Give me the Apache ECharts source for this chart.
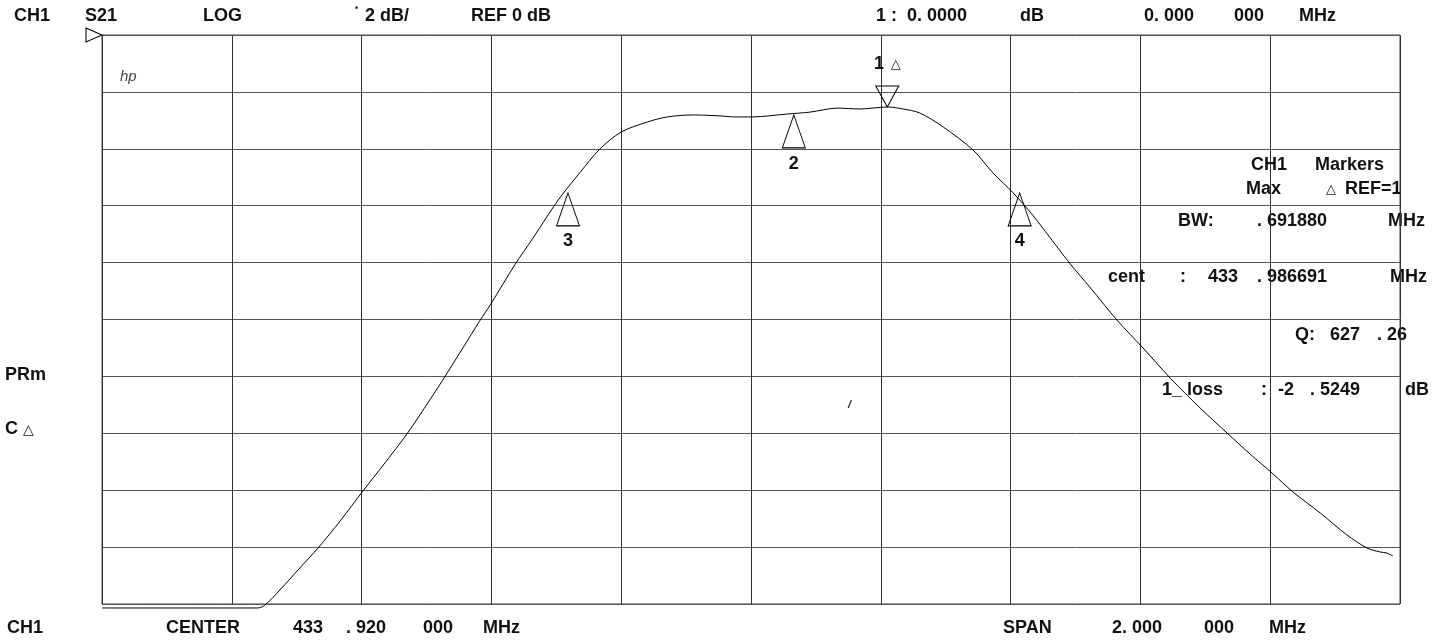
<!DOCTYPE html>
<html>
<head>
<meta charset="utf-8">
<script src="https://cdn.jsdelivr.net/npm/echarts@6/dist/echarts.min.js"></script>
<style>
html,body{margin:0;padding:0;background:#fff;}
#chart{width:1448px;height:643px;}
</style>
</head>
<body>
<div id="chart"></div>
<script>
// ---- instrument settings ----
const CENTER_MHZ = 433.92;
const SPAN_MHZ = 2.0;
const REF_DB = 0;
const DB_PER_DIV = 2;
const DIVS = 10;

// ---- S21 trace (frequency in MHz, level in dB) ----
const traceFreqMHz = [
  432.920, 433.071, 433.160, 433.171, 433.194, 433.225, 433.253, 433.287, 433.321, 433.356,
  433.390, 433.425, 433.445, 433.476, 433.502, 433.519, 433.556, 433.584, 433.623, 433.657,
  433.687, 433.720, 433.760, 433.791, 433.831, 433.877, 433.892, 433.922, 433.975, 434.011,
  434.053, 434.088, 434.131, 434.154, 434.180, 434.216, 434.262, 434.293, 434.324, 434.354,
  434.393, 434.412, 434.442, 434.485, 434.524, 434.566, 434.612, 434.655, 434.689, 434.723,
  434.755, 434.797, 434.838, 434.869, 434.889, 434.900, 434.909
];
const traceDb = [
  -20.14, -20.14, -20.14, -20.04, -19.51, -18.73, -18.03, -17.08, -16.06, -15.04,
  -14.02, -12.83, -12.13, -11.00, -10.05, -9.46, -8.08, -7.14, -5.80, -4.82,
  -4.01, -3.41, -3.06, -2.88, -2.81, -2.85, -2.88, -2.88, -2.78, -2.71,
  -2.57, -2.60, -2.53, -2.60, -2.74, -3.23, -4.04, -4.85, -5.55, -6.33,
  -7.49, -8.05, -8.86, -10.05, -11.00, -12.06, -13.11, -14.02, -14.73, -15.40,
  -16.06, -16.80, -17.57, -18.03, -18.17, -18.21, -18.31
];

// ---- markers ----
const markerNames = ['1', '2', '3', '4'];
const markerFreqMHz = [434.130, 433.986, 433.638, 434.334];
const markerDb = [-2.53, -2.81, -5.55, -5.55];

// ---- header / footer / marker table texts ----
const headerTexts = ['CH1', 'S21', 'LOG', '2 dB/', 'REF 0 dB', '1 :  0. 0000', 'dB', '0. 000', '000', 'MHz'];
const footerTexts = ['CH1', 'CENTER', '433', '. 920', '000', 'MHz', 'SPAN', '2. 000', '000', 'MHz'];
const sideTexts = ['PRm', 'C'];
const tableTexts = {
  title: ['CH1', 'Markers', 'Max', 'REF=1'],
  bw: ['BW:', '. 691880', 'MHz'],
  cent: ['cent', ':', '433', '. 986691', 'MHz'],
  q: ['Q:', '627', '. 26'],
  loss: ['1_ loss', ':', '-2', '. 5249', 'dB']
};

const FONT = 'bold 18px "Liberation Sans", Arial, sans-serif';
function txt(s, x, y, font, fill) {
  return { type: 'text', x: x, y: y, silent: true,
    style: { text: s, font: font || FONT, fill: fill || '#111', textAlign: 'left', textVerticalAlign: 'middle' } };
}

const graphics = [];
// header
const headerX = [14, 85, 203, 365, 471, 876, 1020, 1144, 1234, 1299];
headerTexts.forEach((s, i) => graphics.push(txt(s, headerX[i], 16.5)));
graphics.push(txt('\u2022', 355, 9, 'bold 9px "Liberation Sans", Arial'));
// footer
const footerX = [7, 166, 293, 346, 423, 483, 1003, 1112, 1204, 1269];
footerTexts.forEach((s, i) => graphics.push(txt(s, footerX[i], 628)));
// left side
graphics.push(txt(sideTexts[0], 5, 375));
graphics.push(txt(sideTexts[1], 5, 429));
graphics.push(txt('\u25B3', 23, 430, '14px "DejaVu Sans", sans-serif'));
// hp logo and specks
graphics.push(txt('hp', 120, 77, 'italic 15px "Liberation Sans", Arial', '#444'));
graphics.push(txt('/', 848, 405, 'bold italic 11px "Liberation Sans", Arial', '#222'));
// marker table
graphics.push(txt(tableTexts.title[0], 1251, 165));
graphics.push(txt(tableTexts.title[1], 1315, 165));
graphics.push(txt(tableTexts.title[2], 1246, 189));
graphics.push(txt('\u25B3', 1326, 190, '13px "DejaVu Sans", sans-serif'));
graphics.push(txt(tableTexts.title[3], 1345, 189));
graphics.push(txt(tableTexts.bw[0], 1178, 221));
graphics.push(txt(tableTexts.bw[1], 1257, 221));
graphics.push(txt(tableTexts.bw[2], 1388, 221));
graphics.push(txt(tableTexts.cent[0], 1108, 277));
graphics.push(txt(tableTexts.cent[1], 1180, 277));
graphics.push(txt(tableTexts.cent[2], 1208, 277));
graphics.push(txt(tableTexts.cent[3], 1257, 277));
graphics.push(txt(tableTexts.cent[4], 1390, 277));
graphics.push(txt(tableTexts.q[0], 1295, 335));
graphics.push(txt(tableTexts.q[1], 1330, 335));
graphics.push(txt(tableTexts.q[2], 1377, 335));
graphics.push(txt(tableTexts.loss[0], 1162, 390));
graphics.push(txt(tableTexts.loss[1], 1261, 390));
graphics.push(txt(tableTexts.loss[2], 1278, 390));
graphics.push(txt(tableTexts.loss[3], 1310, 390));
graphics.push(txt(tableTexts.loss[4], 1405, 390));

const traceData = traceFreqMHz.map((f, i) => [f - CENTER_MHZ, traceDb[i]]);

const markLabelFont = { fontFamily: '"Liberation Sans", Arial, sans-serif', fontWeight: 'bold', fontSize: 18, color: '#111' };
const markerPoints = markerNames.map((n, i) => {
  const coord = [markerFreqMHz[i] - CENTER_MHZ, markerDb[i]];
  if (i === 0) {
    return {
      name: n, coord: coord,
      symbol: 'path://M0,0 L22,0 L11,21 Z', symbolSize: [23, 21], symbolOffset: [0, '-50%'],
      label: { show: true, position: 'top', distance: 12,
        formatter: '{n|' + n + '}  {t|\u25B3}',
        rich: { n: markLabelFont, t: { fontFamily: '"DejaVu Sans", sans-serif', fontSize: 13, color: '#111' } } }
    };
  }
  return {
    name: n, coord: coord,
    symbol: 'path://M11,0 L22,33 L0,33 Z', symbolSize: [23, 33], symbolOffset: [0, '50%'],
    label: Object.assign({ show: true, position: 'bottom', distance: 6, formatter: n }, markLabelFont)
  };
});
// reference level indicator on the left edge
markerPoints.push({
  name: 'ref', coord: [-SPAN_MHZ / 2, REF_DB],
  symbol: 'path://M0,0 L16,7 L0,14 Z', symbolSize: [16, 14], symbolOffset: [-8, 0],
  label: { show: false }
});

const option = {
  animation: false,
  backgroundColor: '#fff',
  grid: { left: 102, top: 35, width: 1298, height: 569, show: true, borderColor: '#444', borderWidth: 1 },
  xAxis: {
    type: 'value', min: -SPAN_MHZ / 2, max: SPAN_MHZ / 2, interval: SPAN_MHZ / DIVS,
    axisLabel: { show: false }, axisTick: { show: false }, axisLine: { show: false },
    splitLine: { show: true, lineStyle: { color: '#333', width: 1 } }
  },
  yAxis: {
    type: 'value', min: REF_DB - DB_PER_DIV * DIVS, max: REF_DB, interval: DB_PER_DIV,
    axisLabel: { show: false }, axisTick: { show: false }, axisLine: { show: false },
    splitLine: { show: true, lineStyle: { color: '#555', width: 1 } }
  },
  series: [{
    type: 'line', data: traceData, showSymbol: false, smooth: 0.3, clip: false,
    lineStyle: { color: '#000', width: 1 },
    markPoint: {
      silent: true,
      itemStyle: { color: 'rgba(0,0,0,0)', borderColor: '#000', borderWidth: 1 },
      data: markerPoints
    }
  }],
  graphic: graphics
};

const chart = echarts.init(document.getElementById('chart'), null, { renderer: 'canvas' });
chart.setOption(option);
</script>
</body>
</html>
